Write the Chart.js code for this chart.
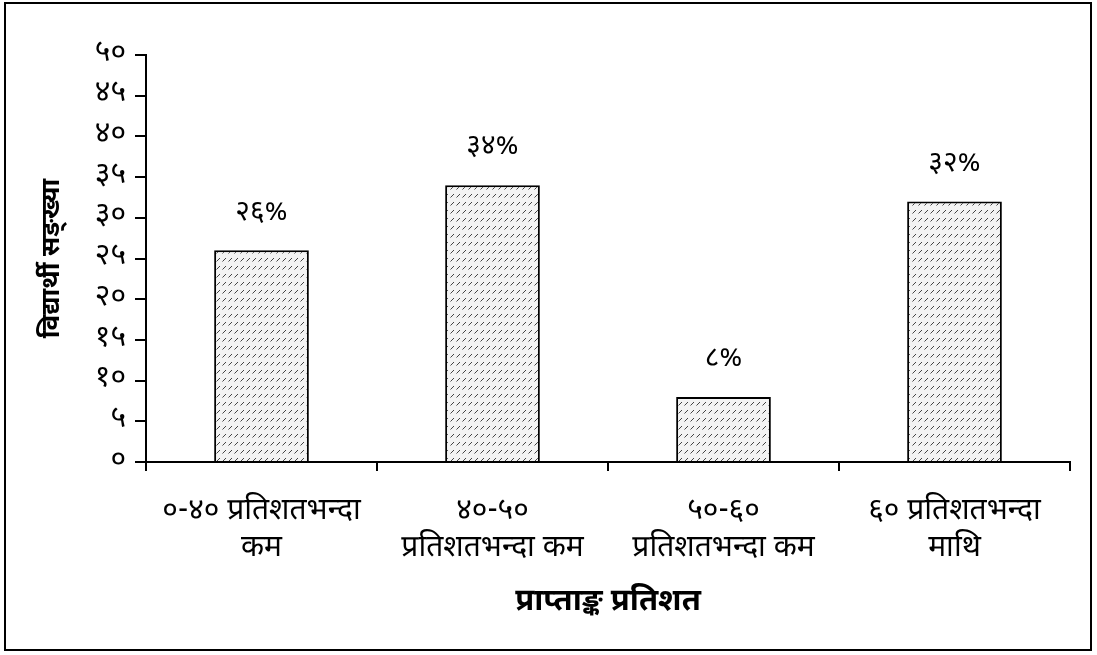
<!DOCTYPE html>
<html>
<head>
<meta charset="utf-8">
<script src="https://cdn.jsdelivr.net/npm/chart.js@4/dist/chart.umd.min.js"></script>
<style>
  html, body { margin: 0; padding: 0; background: #fff; }
  #wrap { width: 1097px; height: 655px; position: relative; }
</style>
</head>
<body>
<div id="wrap"><canvas id="c" width="1097" height="655"></canvas></div>
<script>
// Score bands (x-axis categories), each split into display lines
const categories = [
  ['०-४० प्रतिशतभन्दा', 'कम'],
  ['४०-५०', 'प्रतिशतभन्दा कम'],
  ['५०-६०', 'प्रतिशतभन्दा कम'],
  ['६० प्रतिशतभन्दा', 'माथि']
];
// Number of students per band (same as percentage share)
const studentCounts = [26, 34, 8, 32];
// Y-axis ticks
const yTicks = [0, 5, 10, 15, 20, 25, 30, 35, 40, 45, 50];

const yTitle = 'विद्यार्थी सङ्ख्या';
const xTitle = 'प्राप्ताङ्क प्रतिशत';

const DEV_DIGITS = '०१२३४५६७८९';
function toDevanagari(n) {
  return String(n).replace(/[0-9]/g, d => DEV_DIGITS[+d]);
}

const FONT = '"Noto Sans Devanagari", "Noto Sans", "Lohit Devanagari", sans-serif';

// Dotted diagonal hatch used for the bars
function makeHatch() {
  const t = document.createElement('canvas');
  t.width = 6; t.height = 8;
  const g = t.getContext('2d');
  g.fillStyle = '#f3f3f3';
  g.fillRect(0, 0, 6, 8);
  g.fillStyle = '#444';
  g.fillRect(1, 4, 1, 1);
  g.fillRect(2, 3, 1, 1);
  g.fillRect(3, 2, 1, 1);
  g.fillStyle = '#999';
  g.fillRect(0, 5, 1, 1);
  return document.getElementById('c').getContext('2d').createPattern(t, 'repeat');
}

// Outer frame around the whole figure
const framePlugin = {
  id: 'frame',
  beforeDraw(chart) {
    const ctx = chart.ctx;
    ctx.save();
    ctx.fillStyle = '#fff';
    ctx.fillRect(0, 0, chart.width, chart.height);
    ctx.strokeStyle = '#000';
    ctx.lineWidth = 2;
    ctx.strokeRect(5, 3, 1086, 647);
    ctx.restore();
  }
};

// Percentage label above each bar
const valueLabels = {
  id: 'valueLabels',
  afterDatasetsDraw(chart) {
    const ctx = chart.ctx;
    const meta = chart.getDatasetMeta(0);
    ctx.save();
    ctx.fillStyle = '#000';
    ctx.font = '28px ' + FONT;
    ctx.textAlign = 'center';
    ctx.textBaseline = 'middle';
    meta.data.forEach((bar, i) => {
      ctx.fillText(toDevanagari(studentCounts[i]) + '%', bar.x, bar.y - 36);
    });
    ctx.restore();
  }
};

new Chart(document.getElementById('c'), {
  type: 'bar',
  data: {
    labels: categories,
    datasets: [{
      data: studentCounts,
      backgroundColor: makeHatch(),
      borderColor: '#000',
      borderWidth: 2,
      categoryPercentage: 0.41,
      barPercentage: 1.0
    }]
  },
  options: {
    responsive: false,
    animation: false,
    events: [],
    layout: { padding: { top: 55, right: 27, left: 0, bottom: 0 } },
    plugins: { legend: { display: false }, tooltip: { enabled: false } },
    scales: {
      x: {
        grid: { display: true, drawOnChartArea: false, offset: true, color: '#000', lineWidth: 2, tickLength: 9 },
        border: { display: true, color: '#000', width: 2 },
        ticks: { color: '#000', font: { family: FONT, size: 30, lineHeight: 1.23 }, padding: 24, maxRotation: 0, autoSkip: false },
        title: { display: true, text: xTitle, color: '#000', font: { family: FONT, size: 31, weight: 'bold' }, padding: { top: 10, bottom: 32 } },
        afterFit(scale) { scale.height = 655 - 462; }
      },
      y: {
        min: 0, max: 50,
        afterBuildTicks(scale) { scale.ticks = yTicks.map(v => ({ value: v })); },
        grid: { display: true, drawOnChartArea: false, color: '#000', lineWidth: 2, tickLength: 11 },
        border: { display: true, color: '#000', width: 2 },
        ticks: { color: '#000', font: { family: FONT, size: 30 }, padding: 9, callback: v => toDevanagari(v) },
        title: { display: true, text: yTitle, color: '#000', font: { family: FONT, size: 26, weight: 'bold' }, padding: { top: 39, bottom: 0 } },
        afterFit(scale) { scale.width = 146; }
      }
    }
  },
  plugins: [framePlugin, valueLabels]
});
</script>
</body>
</html>
